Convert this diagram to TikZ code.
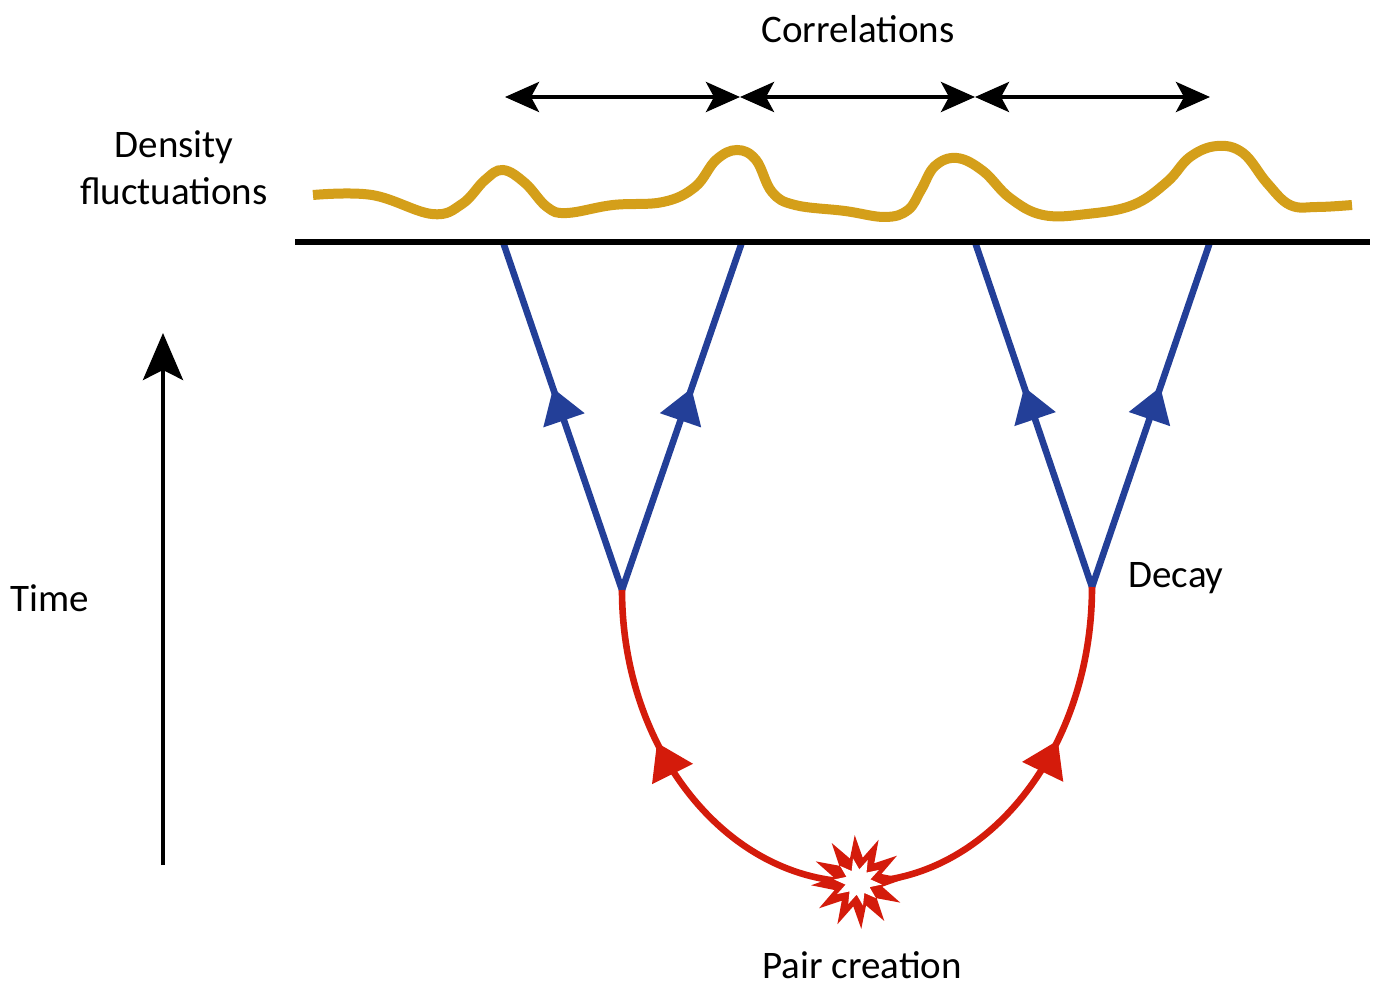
\documentclass[tikz,border=0pt]{standalone}
\usepackage{fontspec}
\setmainfont{Carlito}
\usepackage{xcolor}
\usetikzlibrary{arrows.meta,decorations.markings,shapes.geometric}
\definecolor{gold}{HTML}{D49F1A}
\definecolor{blu}{HTML}{233F98}
\definecolor{rred}{HTML}{D41B0B}
\tikzset{
  lbl/.style  ={font=\fontsize{19.5}{23.5}\selectfont, align=center, inner sep=0pt},
  corr/.style ={{Stealth[length=17pt,width=15pt,inset=4pt]}-{Stealth[length=17pt,width=15pt,inset=4pt]}, line width=2pt},
  tax/.style  ={-{Stealth[length=23.5pt,width=20pt,inset=5pt]}, line width=2pt},
  wave/.style ={draw=gold, line width=5pt},
  surf/.style ={line width=3.3pt},
  bl/.style   ={draw=blu, line width=3.3pt, postaction={decorate},
                decoration={markings, mark=at position #1 with {\arrow{Triangle[length=17pt,width=21pt,color=blu]}}}},
  rl/.style   ={draw=rred, line width=3.3pt, postaction={decorate},
                decoration={markings, mark=at position #1 with {\arrow{Triangle[length=17.5pt,width=22pt,color=rred]}}}},
  burst/.style={star, star points=12, inner sep=0pt, draw=none},
}
\begin{document}
\begin{tikzpicture}[x=0.5pt,y=-0.5pt]
  \useasboundingbox (0,0) rectangle (1376,989);
  \coordinate (c1) at (505,97);
  \coordinate (c2) at (740,97);
  \coordinate (c3) at (975,97);
  \coordinate (c4) at (1210,97);
  \coordinate (t1) at (503,242);
  \coordinate (t2) at (742,242);
  \coordinate (t3) at (975,242);
  \coordinate (t4) at (1210,242);
  \coordinate (hl) at (295,242);
  \coordinate (hr) at (1370,242);
  \coordinate (lv) at (622,590);
  \coordinate (rv) at (1092,587);
  \coordinate (pc) at (858,882);
  \coordinate (tb) at (163,865);
  \coordinate (tt) at (163,333);
  \node[lbl](corrl) at (858,29){Correlations};
  \node[lbl](dens)  at (174,168){Density\\fluctuations};
  \node[lbl, anchor=west](time)  at (10,598){Time};
  \node[lbl, anchor=west](decay) at (1128,578){Decay};
  \node[lbl](pair)  at (862,965){Pair creation};
  \draw[corr](c1)--(c2);
  \draw[corr](c2)--(c3);
  \draw[corr](c3)--(c4);
  \draw[wave] plot[smooth, tension=0.65] coordinates {(313,195) (372,195) (432,214) (462,204) (485,180) (503,170) (525,183) (547,207) (567,213) (613,205) (663,202) (695,187) (716,160) (737,150) (756,160) (772,192) (795,205) (845,211) (885,217) (908,210) (921,190) (935,166) (957,158) (983,171) (1010,198) (1043,215) (1087,214) (1133,205) (1167,182) (1190,157) (1217,146) (1243,153) (1267,183) (1290,205) (1317,207) (1352,205)};
  \draw[bl=0.58](lv)--(t1);
  \draw[bl=0.58](lv)--(t2);
  \draw[bl=0.58](rv)--(t3);
  \draw[bl=0.58](rv)--(t4);
  \draw[surf](hl)--(hr);
  \draw[rl=0.62](pc) .. controls +(-130,0) and +(0,161) .. (lv);
  \draw[rl=0.62](pc) .. controls +(129,0) and +(0,163) .. (rv);
  \node[burst, star point ratio=1.9, minimum size=47pt, fill=rred, rotate=4](boom) at (pc){};
  \node[burst, star points=10, star point ratio=1.9, minimum size=24pt, fill=white, rotate=12](core) at (pc){};
  \draw[tax](tb)--(tt);
\end{tikzpicture}
\end{document}
